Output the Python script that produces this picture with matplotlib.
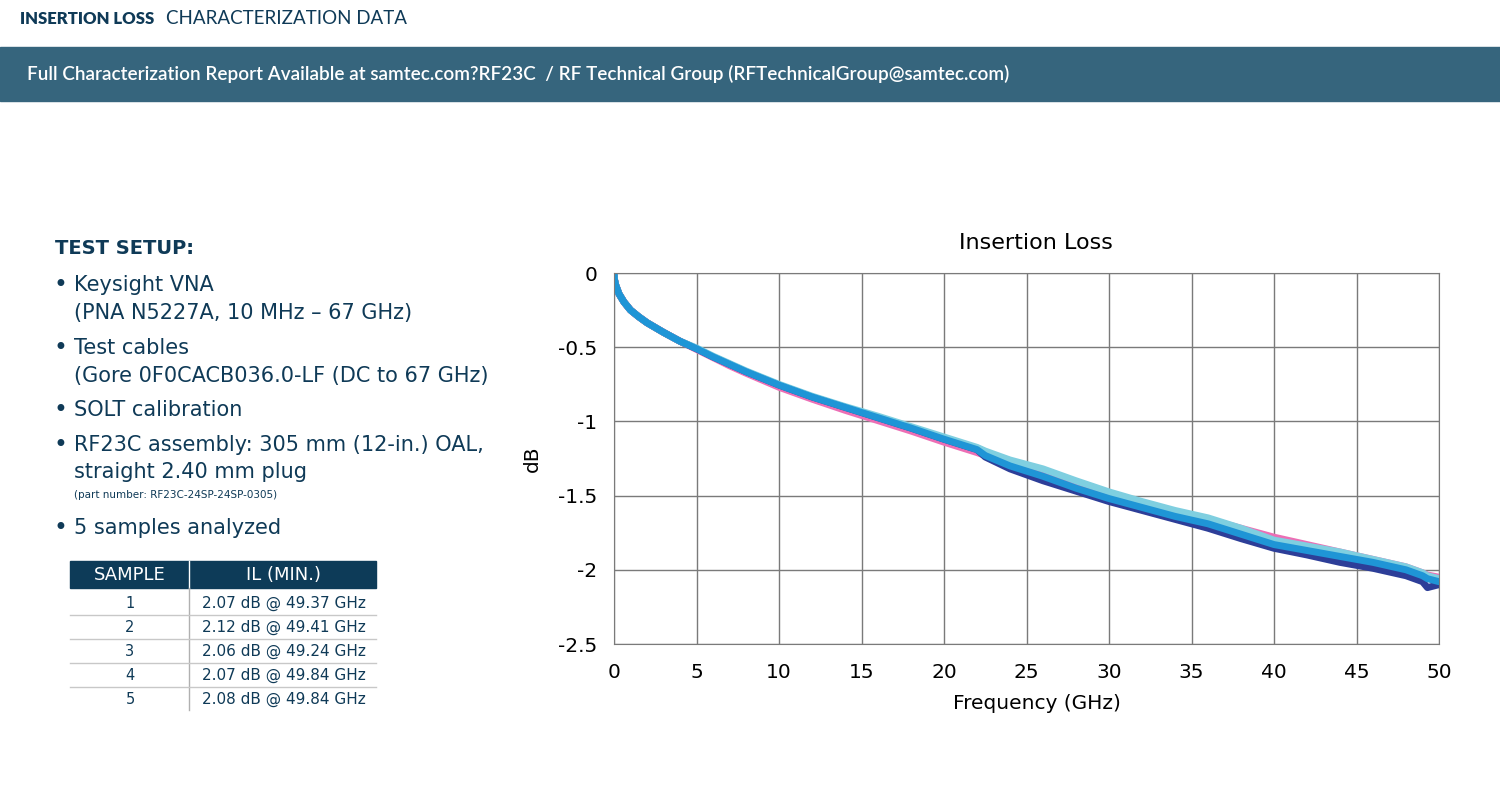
import numpy as np
import matplotlib
matplotlib.use('Agg')
import matplotlib.pyplot as plt
import matplotlib.patches as mpatches
import matplotlib.ticker as ticker

plt.rcParams['font.family'] = ['DejaVu Sans']
plt.rcParams['axes.unicode_minus'] = False

##===========================================
# data
##===========================================
freq = [0, 0.02, 0.1, 0.3, 0.6, 1, 1.5, 2, 3, 4, 5, 6, 7, 8, 10, 12, 14, 16, 18, 20,
        22, 22.5, 24, 26, 28, 30, 32, 34, 36, 38, 40, 42, 44, 46, 48, 49, 49.3, 50]

il_red = [0, -0.04, -0.08, -0.14, -0.195, -0.25, -0.295, -0.335, -0.40, -0.46, -0.51, -0.565, -0.615,
          -0.665, -0.755, -0.835, -0.905, -0.975, -1.045, -1.115, -1.18, -1.205, -1.29, -1.36, -1.44,
          -1.51, -1.57, -1.63, -1.68, -1.75, -1.82, -1.86, -1.90, -1.94, -1.99, -2.03, -2.05, -2.07]
il_pink = [0, -0.04, -0.08, -0.14, -0.195, -0.25, -0.295, -0.335, -0.40, -0.46, -0.515, -0.57, -0.625,
           -0.675, -0.77, -0.85, -0.925, -0.995, -1.065, -1.14, -1.21, -1.23, -1.29, -1.36, -1.43,
           -1.49, -1.55, -1.61, -1.66, -1.72, -1.78, -1.83, -1.88, -1.93, -1.98, -2.02, -2.035, -2.05]
il_navy = [0, -0.04, -0.08, -0.14, -0.195, -0.25, -0.295, -0.335, -0.40, -0.46, -0.51, -0.565, -0.615,
           -0.665, -0.755, -0.835, -0.905, -0.975, -1.045, -1.12, -1.19, -1.24, -1.32, -1.40, -1.47,
           -1.54, -1.60, -1.66, -1.72, -1.79, -1.855, -1.90, -1.95, -1.99, -2.04, -2.08, -2.12, -2.10]
il_light = [0, -0.04, -0.08, -0.14, -0.195, -0.25, -0.295, -0.335, -0.40, -0.46, -0.505, -0.56, -0.61,
            -0.66, -0.75, -0.83, -0.90, -0.965, -1.035, -1.105, -1.175, -1.20, -1.26, -1.32, -1.40,
            -1.475, -1.54, -1.60, -1.65, -1.72, -1.80, -1.84, -1.88, -1.93, -1.98, -2.02, -2.04, -2.06]
il_blue = [0, -0.04, -0.08, -0.14, -0.195, -0.25, -0.295, -0.335, -0.40, -0.46, -0.51, -0.565, -0.615,
           -0.665, -0.755, -0.835, -0.905, -0.975, -1.045, -1.12, -1.19, -1.23, -1.30, -1.37, -1.45,
           -1.52, -1.58, -1.64, -1.69, -1.76, -1.83, -1.87, -1.91, -1.95, -2.00, -2.04, -2.06, -2.08]

samples = ['1', '2', '3', '4', '5']
il_min = ['2.07 dB @ 49.37 GHz', '2.12 dB @ 49.41 GHz', '2.06 dB @ 49.24 GHz',
          '2.07 dB @ 49.84 GHz', '2.08 dB @ 49.84 GHz']

setup_lines = [
    ('\u2022', 'Keysight VNA', 285, 15),
    ('', '(PNA N5227A, 10 MHz \u2013 67 GHz)', 313, 15),
    ('\u2022', 'Test cables', 348, 15),
    ('', '(Gore 0F0CACB036.0-LF (DC to 67 GHz)', 376, 15),
    ('\u2022', 'SOLT calibration', 410, 15),
    ('\u2022', 'RF23C assembly: 305 mm (12-in.) OAL,', 445, 15),
    ('', 'straight 2.40 mm plug', 472, 15),
    ('', '(part number: RF23C-24SP-24SP-0305)', 495, 7.5),
    ('\u2022', '5 samples analyzed', 528, 15),
]

navy_txt = '#0f3a57'
W, H = 1500, 805


def fx(x):
    return x / W


def fy(y):
    return 1 - y / H


fig = plt.figure(figsize=(15, 8.05), dpi=100)

#=======================================================
# header + banner
#=======================================================
fig.text(fx(20), fy(19), 'INSERTION LOSS', fontsize=12, fontweight='heavy',
         family='Lato', color=navy_txt, va='center', ha='left')
fig.text(fx(166), fy(19), 'CHARACTERIZATION DATA', fontsize=13.5,
         family='Lato', color=navy_txt, va='center', ha='left')
fig.patches.append(mpatches.Rectangle((0, fy(101)), 1, (101 - 47) / H,
                                      transform=fig.transFigure, color='#36657d', zorder=0))
fig.text(fx(27), fy(74), 'Full Characterization Report Available at samtec.com?RF23C  / '
         'RF Technical Group (RFTechnicalGroup@samtec.com)',
         fontsize=13.6, fontweight='semibold', family='Lato', color='white',
         va='center', ha='left')

#=======================================================
# test setup text
#=======================================================
fig.text(fx(55), fy(248), 'TEST SETUP:', fontsize=14, fontweight='bold',
         color=navy_txt, va='center', ha='left')
for bullet, txt, yy, fs in setup_lines:
    if bullet:
        fig.text(fx(54), fy(yy), bullet, fontsize=17, color=navy_txt, va='center', ha='left')
    fig.text(fx(74), fy(yy), txt, fontsize=fs, color=navy_txt, va='center', ha='left')

#=======================================================
# table
#=======================================================
tx0, tx1, tdiv = 70, 376, 189
fig.patches.append(mpatches.Rectangle((fx(tx0), fy(588)), (tx1 - tx0) / W, (588 - 561) / H,
                                      transform=fig.transFigure, color='#0d3b58', zorder=1))
fig.lines.append(plt.Line2D([fx(tdiv), fx(tdiv)], [fy(561), fy(588)], transform=fig.transFigure,
                            color='white', lw=1, zorder=2))
fig.lines.append(plt.Line2D([fx(tdiv), fx(tdiv)], [fy(588), fy(710)], transform=fig.transFigure,
                            color='#b0b0b0', lw=1, zorder=2))
fig.text(fx(130), fy(575), 'SAMPLE', fontsize=13, color='white', ha='center', va='center')
fig.text(fx(283), fy(575), 'IL (MIN.)', fontsize=13, color='white', ha='center', va='center')
row_y = [603, 627, 651, 675, 699]
for i in range(len(samples)):
    fig.text(fx(130), fy(row_y[i]), samples[i], fontsize=10.5, color=navy_txt,
             ha='center', va='center')
    fig.text(fx(284), fy(row_y[i]), il_min[i], fontsize=11, color=navy_txt,
             ha='center', va='center')
    if i < len(samples) - 1:
        ysep = (row_y[i] + row_y[i + 1]) / 2
        fig.lines.append(plt.Line2D([fx(tx0), fx(tx1)], [fy(ysep), fy(ysep)],
                                    transform=fig.transFigure, color='#c8c8c8', lw=1))

#=======================================================
# insertion loss plot
#=======================================================
ax = fig.add_axes([fx(614), fy(644), (1439 - 614) / W, (644 - 273) / H])
lw = 5
ax.plot(freq, il_red, '-', color='#e8262d', linewidth=lw, solid_capstyle='round')
ax.plot(freq, il_pink, '-', color='#ec6fb5', linewidth=lw, solid_capstyle='round')
ax.plot(freq, il_navy, '-', color='#2d3e98', linewidth=lw, solid_capstyle='round')
ax.plot(freq, il_light, '-', color='#7fcfe0', linewidth=lw, solid_capstyle='round')
ax.plot(freq, il_blue, '-', color='#1f95d6', linewidth=lw, solid_capstyle='round')

ax.set_xlim(0, 50)
ax.set_ylim(-2.5, 0)
ax.xaxis.set_major_locator(ticker.MultipleLocator(5))
ax.yaxis.set_major_locator(ticker.MultipleLocator(0.5))
ax.yaxis.set_major_formatter(ticker.FuncFormatter(lambda v, p: '%g' % v))
ax.grid(True, color='#7a7a7a', linewidth=1)
ax.set_axisbelow(True)
for s in ax.spines.values():
    s.set_color('#7a7a7a')
ax.tick_params(axis='x', length=0, labelsize=14.5, pad=14)
ax.tick_params(axis='y', length=0, labelsize=14.5, pad=12)
ax.set_title('Insertion Loss', fontsize=16, pad=17, x=0.512)
ax.set_xlabel('Frequency (GHz)', fontsize=14.5, labelpad=8)
ax.xaxis.set_label_coords(0.513, -0.135)
ax.set_ylabel('dB', fontsize=14.5, labelpad=12)

plt.savefig('out.png', dpi=100)
